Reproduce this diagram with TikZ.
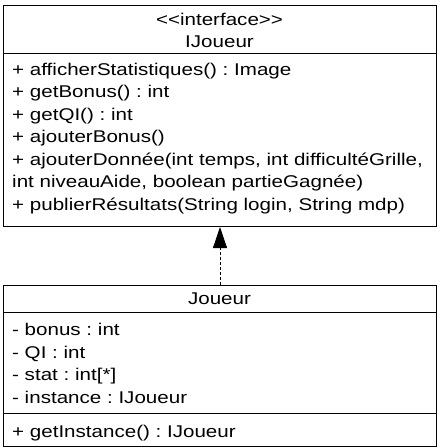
\documentclass[tikz,border=0pt]{standalone}
\usepackage{fontspec}
\setmainfont{Liberation Sans}[FakeStretch=1.21, Ligatures=TeXOff]
\usetikzlibrary{arrows.meta, positioning}
\frenchspacing

\begin{document}
\begin{tikzpicture}[
    x=1pt, y=-1pt,
    classbox/.style={draw=black, line width=1pt, fill=white, inner sep=0pt, anchor=north west},
    sep/.style={draw=black, line width=1pt},
    txt/.style={inner sep=0pt, anchor=base west, font=\fontsize{17}{22.5}\selectfont},
    title/.style={inner sep=0pt, anchor=base, font=\fontsize{17}{22.5}\selectfont},
    realize/.style={draw=black, line width=0.8pt, dash pattern=on 3pt off 2pt, -{Triangle[length=21pt, width=14pt]}}
  ]
    \useasboundingbox (0,0) rectangle (441,448);

    % Interface IJoueur
    \node[classbox, minimum width=433pt, minimum height=221pt] (iface) at (3,5) {};
    \coordinate (ifsepl) at (3,53);
    \coordinate (ifsepr) at (436,53);
    \draw[sep] (ifsepl) -- (ifsepr);
    \node[title] (ifstereo) at (219.5,25) {<<interface>>};
    \node[title] (ifname) at (219.5,47) {IJoueur};

    % Methodes de l'interface
    \node[txt] (m1) at (12,75) {+ afficherStatistiques() : Image};
    \node[txt] (m2) at (12,97.5) {+ getBonus() : int};
    \node[txt] (m3) at (12,120) {+ getQI() : int};
    \node[txt] (m4) at (12,142.5) {+ ajouterBonus()};
    \node[txt] (m5) at (12,165) {+ ajouterDonnée(int temps, int difficultéGrille,};
    \node[txt] (m5b) at (12,187.5) {int niveauAide, boolean partieGagnée)};
    \node[txt] (m6) at (12,210) {+ publierRésultats(String login, String mdp)};

    % Classe Joueur
    \node[classbox, minimum width=433pt, minimum height=161pt] (joueur) at (3,285) {};
    \coordinate (jsep1l) at (3,312);
    \coordinate (jsep1r) at (436,312);
    \coordinate (jsep2l) at (3,413);
    \coordinate (jsep2r) at (436,413);
    \draw[sep] (jsep1l) -- (jsep1r);
    \draw[sep] (jsep2l) -- (jsep2r);
    \node[title] (jname) at (219.5,304) {Joueur};

    % Attributs
    \node[txt] (a1) at (12,335.5) {- bonus : int};
    \node[txt] (a2) at (12,358) {- QI : int};
    \node[txt] (a3) at (12,380.5) {- stat : int[*]};
    \node[txt] (a4) at (12,403) {- instance : IJoueur};

    % Methode
    \node[txt] (jm1) at (12,437) {+ getInstance() : IJoueur};

    % Realisation Joueur -> IJoueur
    \draw[realize] (joueur.north) -- (iface.south);
\end{tikzpicture}
\end{document}
